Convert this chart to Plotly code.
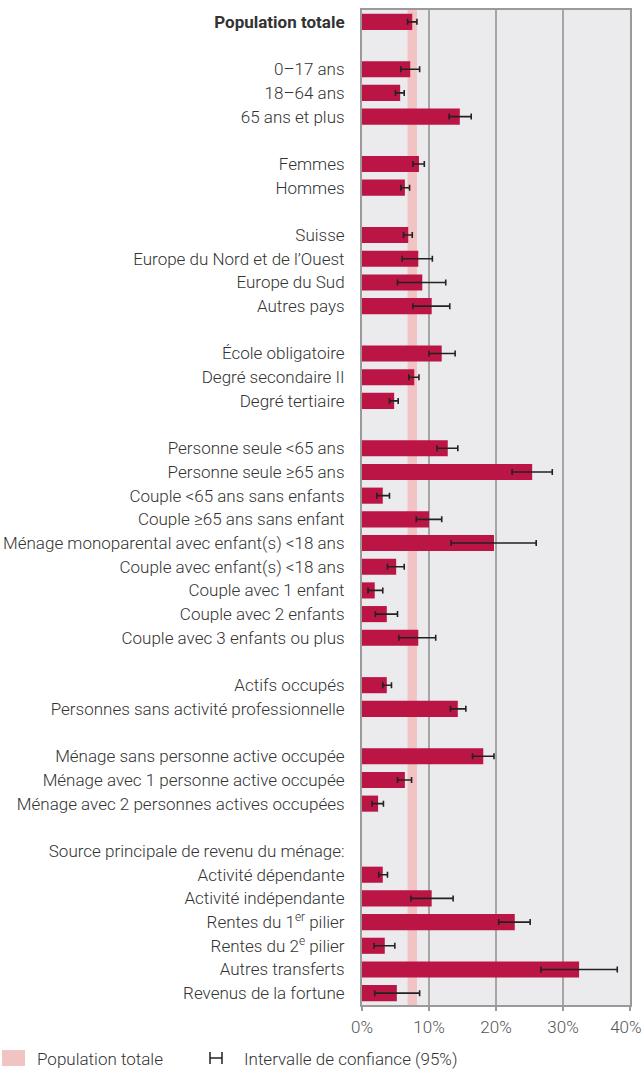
import plotly.graph_objects as go

# ---- data ----
labels = [
    "<b>Population totale</b>", "",
    "0–17 ans", "18–64 ans", "65 ans et plus", "",
    "Femmes", "Hommes", "",
    "Suisse", "Europe du Nord et de l’Ouest", "Europe du Sud", "Autres pays", "",
    "École obligatoire", "Degré secondaire II", "Degré tertiaire", "",
    "Personne seule <65 ans", "Personne seule ≥65 ans", "Couple <65 ans sans enfants",
    "Couple ≥65 ans sans enfant", "Ménage monoparental avec enfant(s) <18 ans",
    "Couple avec enfant(s) <18 ans", "Couple avec 1 enfant", "Couple avec 2 enfants",
    "Couple avec 3 enfants ou plus", "",
    "Actifs occupés", "Personnes sans activité professionnelle", "",
    "Ménage sans personne active occupée", "Ménage avec 1 personne active occupée",
    "Ménage avec 2 personnes actives occupées", "",
    "Source principale de revenu du ménage:",
    "Activité dépendante", "Activité indépendante", "Rentes du 1<sup>er</sup> pilier",
    "Rentes du 2<sup>e</sup> pilier", "Autres transferts", "Revenus de la fortune",
]
values = [
    7.5, None,
    7.2, 5.7, 14.6, None,
    8.5, 6.4, None,
    6.9, 8.4, 9.0, 10.4, None,
    11.9, 7.8, 4.8, None,
    12.8, 25.4, 3.1, 10.0, 19.7, 5.1, 1.9, 3.7, 8.4, None,
    3.7, 14.3, None,
    18.1, 6.4, 2.4, None,
    None,
    3.1, 10.4, 22.8, 3.4, 32.4, 5.2,
]
ci_low = [
    6.8, None,
    5.8, 5.0, 13.0, None,
    7.6, 5.8, None,
    6.2, 6.0, 5.3, 7.6, None,
    10.0, 7.0, 4.1, None,
    11.2, 22.4, 2.2, 8.1, 13.3, 3.8, 0.9, 2.0, 5.5, None,
    3.1, 13.2, None,
    16.5, 5.3, 1.5, None,
    None,
    2.5, 7.3, 20.4, 1.8, 26.7, 1.9,
]
ci_high = [
    8.2, None,
    8.6, 6.3, 16.3, None,
    9.3, 7.1, None,
    7.5, 10.5, 12.5, 13.1, None,
    13.9, 8.5, 5.4, None,
    14.3, 28.4, 4.1, 11.9, 26.0, 6.3, 3.1, 5.3, 11.0, None,
    4.4, 15.5, None,
    19.7, 7.4, 3.2, None,
    None,
    3.8, 13.6, 25.1, 4.9, 38.1, 8.6,
]
x_ticks = [0, 10, 20, 30, 40]
x_ticktext = ["0%", "10%", "20%", "30%", "40%\u00a0\u00a0"]
band_low, band_high = ci_low[0], ci_high[0]

# ---- figure ----
pos = list(range(len(labels)))
idx = [i for i, v in enumerate(values) if v is not None]
lab_idx = [i for i, t in enumerate(labels) if t]

err_plus = [ci_high[i] - values[i] for i in idx]
err_minus = [values[i] - ci_low[i] for i in idx]

BAR = "#BA1545"
fig = go.Figure()
fig.add_trace(go.Bar(
    x=[values[i] for i in idx], y=[pos[i] for i in idx], orientation="h",
    marker=dict(color=BAR, line=dict(width=0)), width=0.68,
    error_x=dict(type="data", symmetric=False, array=err_plus, arrayminus=err_minus,
                 color="#222222", thickness=1.6, width=3),
    hoverinfo="skip", showlegend=False,
))

# Population totale band
fig.add_shape(type="rect", xref="x", yref="paper", x0=band_low, x1=band_high, y0=0, y1=1,
              fillcolor="#F2C3C3", line=dict(width=0), layer="below")

FONT = "Roboto"
FS = 17
fig.update_layout(
    width=644, height=1070,
    margin=dict(l=362, r=14, t=10, b=65, autoexpand=False),
    paper_bgcolor="white", plot_bgcolor="#EBEBEE",
    font=dict(family=FONT, size=FS, color="#333333", weight=300),
    bargap=0.3,
)
fig.update_xaxes(
    range=[0, 40], tickvals=x_ticks, ticktext=x_ticktext,
    showgrid=True, gridcolor="#A6A6A6", gridwidth=1.5,
    showline=True, linecolor="#9A9A9A", linewidth=2, mirror=True,
    zeroline=False, ticks="outside", ticklen=4, tickwidth=1.5, tickcolor="#9A9A9A",
    ticklabelstandoff=2, ticklabeloverflow="allow",
    tickfont=dict(family=FONT, size=FS, color="#555555", weight=300),
    fixedrange=True, automargin=False,
)
fig.update_yaxes(
    range=[len(labels) - 0.5, -0.5], tickvals=[pos[i] for i in lab_idx],
    ticktext=[labels[i] for i in lab_idx],
    showgrid=False, showline=True, linecolor="#9A9A9A", linewidth=2, mirror=True,
    zeroline=False, ticks="", ticklabelstandoff=12, ticklabeloverflow="allow",
    tickfont=dict(family=FONT, size=FS, color="#333333", weight=300),
    fixedrange=True, automargin=False,
)

# ---- legend (custom) ----
W, H = 644, 1070
L, R, T, B = 362, 14, 10, 65
pw, ph = W - L - R, H - T - B
def px(x):
    return (x - L) / pw
def py(y):
    return (H - B - y) / ph

fig.add_shape(type="rect", xref="paper", yref="paper", x0=px(2), x1=px(25), y0=py(1066), y1=py(1050),
              fillcolor="#F2C3C3", line=dict(width=0))
fig.add_annotation(xref="paper", yref="paper", x=px(35), y=py(1059), text="Population totale",
                   showarrow=False, xanchor="left", yanchor="middle",
                   font=dict(family=FONT, size=FS, color="#333333", weight=300))
lc = "#222222"
fig.add_shape(type="line", xref="paper", yref="paper", x0=px(210), x1=px(222), y0=py(1058), y1=py(1058),
              line=dict(color=lc, width=1.5))
fig.add_shape(type="line", xref="paper", yref="paper", x0=px(210), x1=px(210), y0=py(1052), y1=py(1064),
              line=dict(color=lc, width=1.5))
fig.add_shape(type="line", xref="paper", yref="paper", x0=px(222), x1=px(222), y0=py(1052), y1=py(1064),
              line=dict(color=lc, width=1.5))
fig.add_annotation(xref="paper", yref="paper", x=px(242), y=py(1059), text="Intervalle de confiance (95%)",
                   showarrow=False, xanchor="left", yanchor="middle",
                   font=dict(family=FONT, size=FS, color="#333333", weight=300))

fig.write_html(
    "out.html",
    config={"displayModeBar": False, "staticPlot": True},
    post_script="document.body.style.margin='0';document.body.style.overflow='hidden';",
)
